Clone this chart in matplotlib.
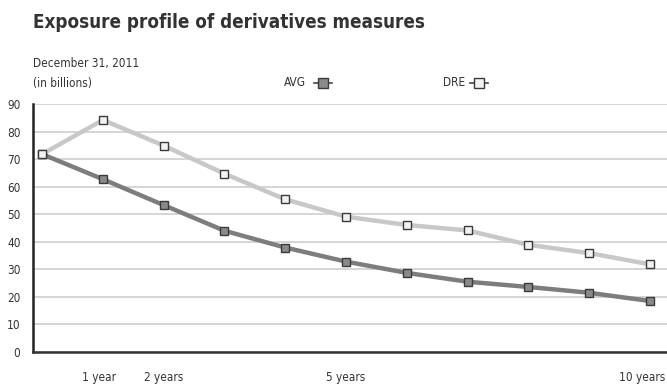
import matplotlib
matplotlib.use("Agg")
import matplotlib.pyplot as plt
from matplotlib.transforms import ScaledTranslation

years = list(range(11))
avg = [71.8, 62.7, 53.3, 44.0, 37.9, 32.8, 28.7, 25.5, 23.6, 21.5, 18.5]
dre = [71.8, 84.2, 74.9, 64.7, 55.4, 49.1, 46.1, 44.1, 38.9, 35.9, 31.8]
xtick_pos = [1, 2, 5, 10]
xtick_labels = ["1 year", "2 years", "5 years", "10 years"]
yticks = list(range(0, 100, 10))

plt.rcParams['font.family'] = ['DejaVu Sans']
plt.rcParams['font.stretch'] = 'condensed'

fig = plt.figure(figsize=(6.67, 3.85), dpi=100)
ax = fig.add_axes([33/667, 1-352/385, (667-33)/667, (352-104)/385])

ax.plot(years, avg, color='#7d7d7d', lw=3.2, marker='s', ms=5.5,
        mfc='#8a8a8a', mec='#3a3a3a', mew=1.0, zorder=3)
ax.plot(years, dre, color='#c8c8c8', lw=3.2, marker='s', ms=5.5,
        mfc='#f2f2f2', mec='#3a3a3a', mew=1.0, zorder=3)

ax.set_ylim(0, 90)
ax.set_xlim(-0.15, 10.28)
ax.set_yticks(yticks)
ax.set_xticks(xtick_pos)
ax.set_xticklabels(xtick_labels)
ax.yaxis.grid(True, color='#d2d2d2', lw=1.3)
ax.set_axisbelow(True)
ax.tick_params(axis='both', length=0, labelsize=8.5, colors='#333333')
ax.tick_params(axis='y', pad=9)
ax.tick_params(axis='x', pad=14)
labs = ax.get_xticklabels()
labs[-1].set_horizontalalignment('right')
labs[-1].set_transform(labs[-1].get_transform() + ScaledTranslation(15/100, 0, fig.dpi_scale_trans))
labs[0].set_transform(labs[0].get_transform() + ScaledTranslation(-4/100, 0, fig.dpi_scale_trans))
for s in ['top', 'right']:
    ax.spines[s].set_visible(False)
ax.spines['left'].set_linewidth(1.8)
ax.spines['left'].set_color('#222222')
ax.spines['bottom'].set_linewidth(1.8)
ax.spines['bottom'].set_color('#333333')

fig.text(33/667, 1-22/385, "Exposure profile of derivatives measures",
         fontsize=13.5, fontweight='bold', color='#333333', va='center')
fig.text(33/667, 1-64/385, "December 31, 2011", fontsize=8.5, color='#333333', va='center')
fig.text(33/667, 1-83/385, "(in billions)", fontsize=8.5, color='#333333', va='center')

# legend
def legend_item(xtext, label, fc):
    fig.text(xtext/667, 1-83/385, label, fontsize=8.5, color='#333333', va='center')
    x0 = xtext + (30 if label == "AVG" else 27)
    fig.lines.append(matplotlib.lines.Line2D([x0/667, (x0+18)/667], [1-83/385]*2,
                     transform=fig.transFigure, color='#444444', lw=1.2))
    fig.lines.append(matplotlib.lines.Line2D([(x0+9)/667], [1-83/385],
                     transform=fig.transFigure, marker='s', ms=7,
                     mfc=fc, mec='#3a3a3a', mew=1.0, lw=0))

legend_item(284, "AVG", '#8a8a8a')
legend_item(443, "DRE", '#f2f2f2')

fig.savefig("out.png", dpi=100)
